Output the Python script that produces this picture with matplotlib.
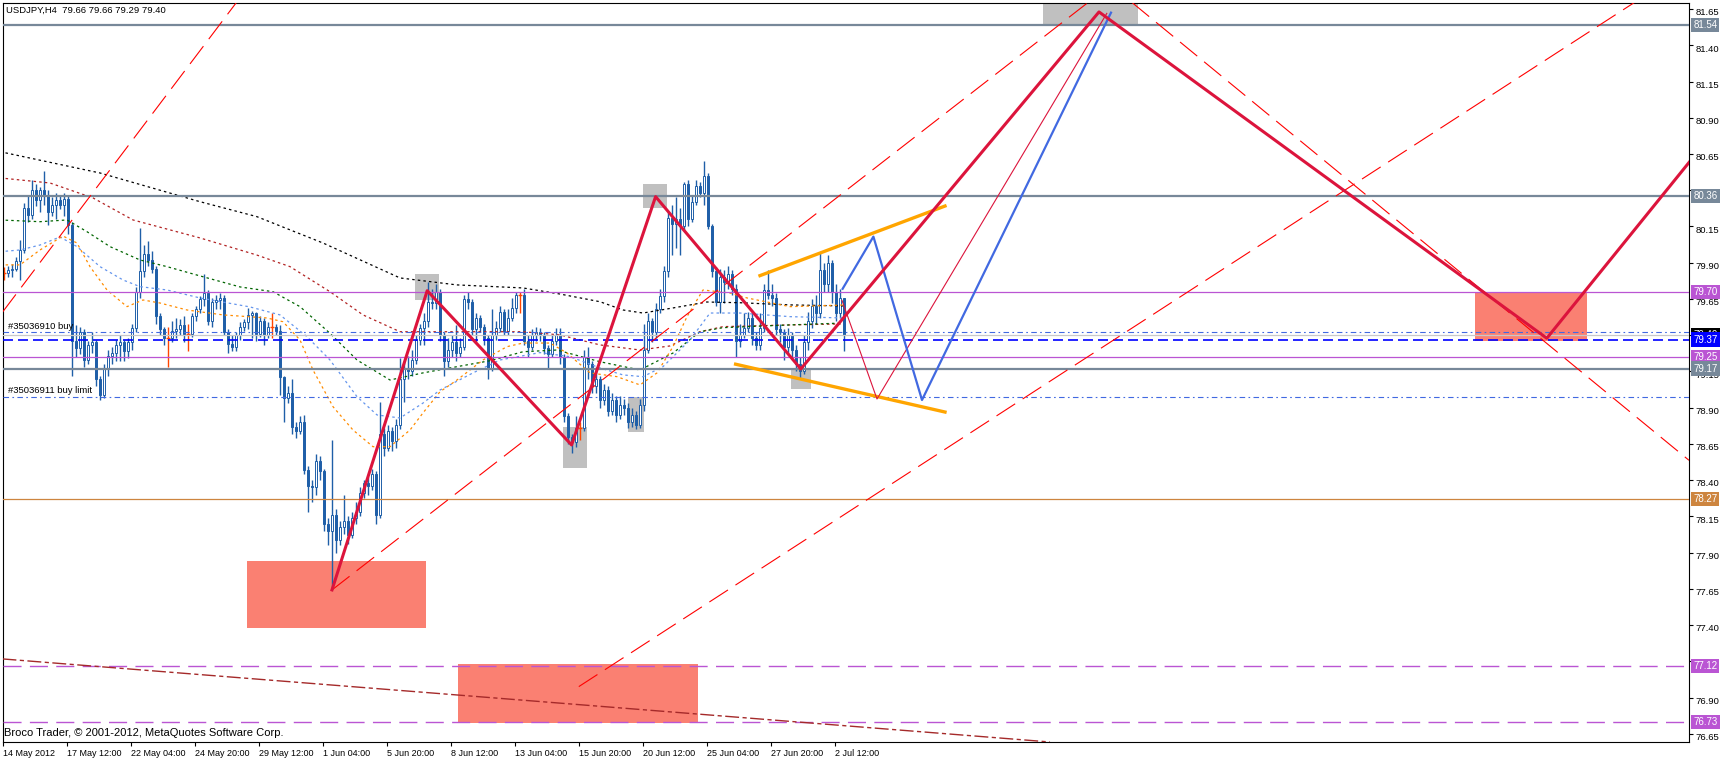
import numpy as np
import matplotlib
matplotlib.use('Agg')
import matplotlib.pyplot as plt
from matplotlib.patches import Rectangle
from matplotlib.transforms import ScaledTranslation

plt.rcParams['font.family'] = ['Liberation Sans', 'DejaVu Sans']

# USDJPY H4 candles, one value per bar
closes = [79.83, 79.85, 79.86, 79.91, 79.99, 80.28, 80.23, 80.40, 80.33, 80.40,
          80.37, 80.25, 80.30, 80.33, 80.30, 80.34, 80.16, 79.36, 79.31, 79.42,
          79.23, 79.33, 79.35, 79.10, 78.99, 79.17, 79.26, 79.28, 79.33, 79.35,
          79.29, 79.35, 79.45, 79.70, 79.84, 79.96, 79.92, 79.86, 79.53, 79.44,
          79.38, 79.38, 79.43, 79.44, 79.47, 79.41, 79.41, 79.53, 79.58, 79.65,
          79.69, 79.50, 79.63, 79.64, 79.66, 79.42, 79.34, 79.32, 79.40, 79.46,
          79.49, 79.54, 79.55, 79.41, 79.50, 79.40, 79.46, 79.46, 79.43, 79.11,
          78.97, 79.00, 78.77, 78.74, 78.80, 78.47, 78.36, 78.35, 78.53, 78.46,
          78.10, 78.05, 78.16, 77.99, 78.08, 78.12, 78.02, 78.14, 78.18, 78.31,
          78.38, 78.36, 78.44, 78.16, 78.72, 78.62, 78.74, 78.67, 78.78, 79.10,
          79.17, 79.15, 79.23, 79.37, 79.45, 79.50, 79.63, 79.62, 79.70, 79.40,
          79.22, 79.30, 79.35, 79.28, 79.32, 79.65, 79.63, 79.44, 79.52, 79.46,
          79.38, 79.17, 79.40, 79.45, 79.56, 79.43, 79.52, 79.59, 79.68, 79.68,
          79.36, 79.32, 79.40, 79.42, 79.40, 79.31, 79.27, 79.36, 79.40, 79.25,
          78.84, 78.70, 78.66, 78.76, 78.76, 79.25, 79.20, 79.05, 79.10, 78.95,
          79.02, 78.88, 78.95, 78.85, 78.92, 78.90, 78.80, 78.85, 78.78, 78.92,
          79.30, 79.50, 79.42, 79.58, 79.67, 79.84, 80.21, 80.17, 80.20, 80.15,
          80.44, 80.20, 80.32, 80.43, 80.38, 80.50, 80.15, 79.84, 79.63, 79.80,
          79.77, 79.82, 79.72, 79.36, 79.40, 79.45, 79.52, 79.38, 79.33, 79.45,
          79.71, 79.68, 79.66, 79.44, 79.42, 79.32, 79.40, 79.30, 79.20, 79.15,
          79.35, 79.50, 79.60, 79.55, 79.85, 79.75, 79.90, 79.70, 79.55, 79.66, 79.40]
highs = [79.87, 79.88, 79.89, 79.94, 80.06, 80.31, 80.36, 80.47, 80.44, 80.42,
         80.53, 80.40, 80.35, 80.38, 80.37, 80.38, 80.37, 80.18, 79.47, 79.46,
         79.44, 79.36, 79.42, 79.37, 79.12, 79.20, 79.30, 79.32, 79.37, 79.40,
         79.37, 79.38, 79.48, 79.73, 80.14, 80.02, 80.05, 79.98, 79.88, 79.55,
         79.46, 79.46, 79.50, 79.52, 79.51, 79.53, 79.48, 79.55, 79.60, 79.67,
         79.82, 79.71, 79.66, 79.68, 79.69, 79.68, 79.44, 79.40, 79.42, 79.49,
         79.51, 79.59, 79.57, 79.56, 79.53, 79.52, 79.49, 79.55, 79.48, 79.47,
         79.12, 79.05, 79.10, 78.80, 78.84, 78.85, 78.50, 78.40, 78.58, 78.57,
         78.48, 78.14, 78.68, 78.20, 78.12, 78.30, 78.15, 78.18, 78.25, 78.35,
         78.40, 78.42, 78.48, 78.46, 78.94, 78.76, 78.78, 78.77, 78.82, 79.24,
         79.22, 79.26, 79.30, 79.40, 79.48, 79.55, 79.77, 79.72, 79.75, 79.72,
         79.42, 79.38, 79.40, 79.47, 79.38, 79.68, 79.70, 79.65, 79.55, 79.54,
         79.48, 79.40, 79.58, 79.50, 79.60, 79.58, 79.58, 79.66, 79.70, 79.70,
         79.72, 79.40, 79.44, 79.46, 79.45, 79.42, 79.33, 79.40, 79.45, 79.45,
         79.27, 78.86, 78.72, 78.84, 78.80, 79.30, 79.32, 79.22, 79.18, 79.12,
         79.06, 79.05, 79.00, 78.98, 78.98, 78.96, 78.93, 78.90, 78.88, 78.96,
         79.48, 79.55, 79.52, 79.62, 79.72, 79.88, 80.25, 80.30, 80.35, 80.28,
         80.46, 80.47, 80.36, 80.47, 80.46, 80.60, 80.52, 80.17, 79.87, 79.86,
         79.85, 79.88, 79.85, 79.75, 79.48, 79.55, 79.56, 79.55, 79.42, 79.55,
         79.75, 79.85, 79.75, 79.69, 79.48, 79.44, 79.45, 79.42, 79.33, 79.25,
         79.40, 79.56, 79.65, 79.68, 79.97, 79.90, 79.95, 79.92, 79.75, 79.72, 79.66]
lows = [79.78, 79.80, 79.80, 79.84, 79.78, 79.97, 80.18, 80.20, 80.29, 80.25,
        80.30, 80.16, 80.22, 80.20, 80.27, 80.22, 80.10, 79.12, 79.25, 79.27,
        79.18, 79.20, 79.28, 79.05, 78.95, 78.97, 79.12, 79.20, 79.22, 79.22,
        79.22, 79.24, 79.30, 79.42, 79.66, 79.80, 79.88, 79.83, 79.48, 79.40,
        79.33, 79.18, 79.35, 79.38, 79.40, 79.35, 79.29, 79.39, 79.50, 79.55,
        79.60, 79.47, 79.46, 79.58, 79.58, 79.40, 79.28, 79.29, 79.29, 79.37,
        79.43, 79.44, 79.38, 79.36, 79.39, 79.33, 79.38, 79.38, 79.40, 78.99,
        78.80, 78.93, 78.72, 78.69, 78.72, 78.44, 78.18, 78.25, 78.30, 78.40,
        78.05, 77.95, 77.65, 77.90, 77.95, 78.03, 77.96, 78.00, 78.10, 78.15,
        78.28, 78.30, 78.33, 78.10, 78.14, 78.57, 78.60, 78.60, 78.62, 78.75,
        78.94, 79.10, 79.12, 79.20, 79.33, 79.33, 79.46, 79.58, 79.58, 79.36,
        79.12, 79.18, 79.25, 79.22, 79.25, 79.30, 79.58, 79.40, 79.35, 79.42,
        79.33, 79.10, 79.15, 79.37, 79.42, 79.40, 79.40, 79.50, 79.55, 79.55,
        79.33, 79.25, 79.30, 79.36, 79.36, 79.27, 79.17, 79.25, 79.33, 79.20,
        78.80, 78.65, 78.59, 78.63, 78.68, 78.74, 79.10, 79.00, 79.00, 78.90,
        78.92, 78.84, 78.85, 78.80, 78.82, 78.85, 78.76, 78.77, 78.75, 78.76,
        78.88, 79.28, 79.35, 79.38, 79.55, 79.63, 79.80, 79.95, 80.00, 79.95,
        80.12, 80.15, 80.18, 80.30, 80.35, 80.30, 80.13, 79.80, 79.60, 79.55,
        79.62, 79.72, 79.68, 79.25, 79.32, 79.38, 79.42, 79.33, 79.30, 79.30,
        79.42, 79.65, 79.60, 79.40, 79.35, 79.23, 79.28, 79.25, 79.15, 79.10,
        79.13, 79.30, 79.45, 79.48, 79.52, 79.70, 79.70, 79.62, 79.50, 79.52, 79.29]
opens = [closes[0]] + closes[:-1]

date_labels = ['14 May 2012', '17 May 12:00', '22 May 04:00', '24 May 20:00', '29 May 12:00',
               '1 Jun 04:00', '5 Jun 20:00', '8 Jun 12:00', '13 Jun 04:00', '15 Jun 20:00',
               '20 Jun 12:00', '25 Jun 04:00', '27 Jun 20:00', '2 Jul 12:00']

# moving averages: (bar, price) knots
ma_black_x = [-1, 24, 49, 63.2, 79.75, 99, 113.2, 129.75, 139, 149, 154.75, 159.75, 167.25, 175.7, 184, 196.5, 209.75]
ma_black_y = [80.666, 80.519, 80.321, 80.218, 80.036, 79.795, 79.747, 79.726, 79.684, 79.631, 79.574, 79.553, 79.588, 79.629, 79.624, 79.609, 79.602]
ma_red_x = [-1, 11.5, 22.25, 32.25, 49, 63.2, 71.5, 81.5, 89.75, 99, 113.25, 129.75, 139, 149, 159, 166.5, 174, 179.75, 196.5, 209.75]
ma_red_y = [80.485, 80.450, 80.347, 80.195, 80.071, 79.953, 79.873, 79.700, 79.540, 79.424, 79.424, 79.424, 79.402, 79.333, 79.298, 79.326, 79.424, 79.459, 79.471, 79.478]
ma_green_x = [-1, 9, 15.75, 20.75, 26.5, 34, 40.75, 49, 59, 67.25, 74, 81.5, 88.25, 96.5, 104.75, 113.25, 121.5, 129.75, 138.25, 149, 159, 167.25, 174, 179.75, 196.5, 209.75]
ma_green_y = [80.195, 80.183, 80.195, 80.114, 80.011, 79.919, 79.873, 79.809, 79.733, 79.700, 79.597, 79.413, 79.229, 79.091, 79.140, 79.183, 79.224, 79.286, 79.298, 79.217, 79.160, 79.277, 79.424, 79.452, 79.471, 79.484]
ma_blue_x = [-1, 4, 9, 14, 18.25, 24, 29.75, 34, 40.75, 49, 61.5, 69, 75.75, 81.5, 88.25, 93.25, 99, 104.75, 109, 117.25, 124, 134, 141.5, 149, 154.75, 159.75, 164.75, 171.5, 176.5, 184, 196.5, 209.75]
ma_blue_y = [79.976, 79.988, 80.022, 80.078, 80.011, 79.873, 79.781, 79.735, 79.712, 79.657, 79.595, 79.540, 79.390, 79.229, 78.976, 78.850, 78.829, 78.932, 79.022, 79.140, 79.229, 79.280, 79.252, 79.174, 79.126, 79.114, 79.183, 79.367, 79.553, 79.553, 79.528, 79.519]
ma_orange_x = [-1, 4, 9, 14.75, 18.25, 21.5, 25.75, 30.75, 34.75, 39, 45.75, 54.75, 65.75, 69.75, 74, 77.25, 82.25, 87.25, 92.25, 96.5, 101.5, 104.75, 109, 113.25, 119.75, 125.75, 129.75, 136.5, 140.75, 146.5, 153.25, 159, 163.25, 167.25, 170.75, 174.75, 181.5, 185.75, 196.5, 209.75]
ma_orange_y = [79.885, 79.885, 79.988, 80.084, 80.036, 79.873, 79.712, 79.597, 79.643, 79.622, 79.574, 79.540, 79.519, 79.493, 79.367, 79.160, 78.907, 78.746, 78.631, 78.631, 78.746, 78.864, 79.010, 79.091, 79.229, 79.321, 79.346, 79.346, 79.277, 79.140, 79.114, 79.057, 79.140, 79.321, 79.528, 79.712, 79.691, 79.657, 79.597, 79.608]

# zigzag / projection objects
zigzag_x = [82, 105.8, 141.9, 162.9, 199.2, 273.75, 385.7, 421.5]
zigzag_y = [77.643, 79.707, 78.643, 80.356, 79.167, 81.63, 79.379, 80.60]
thin_x = [209.5, 218.25, 275.7]
thin_y = [79.64, 78.96, 81.62]
proj_blue_x = [209.65, 217.35, 229.5, 276.75]
proj_blue_y = [79.72, 80.08, 78.953, 81.625]
orange_up_x, orange_up_y = [189, 235.25], [79.811, 80.291]
orange_dn_x, orange_dn_y = [182.9, 235.25], [79.20, 78.87]
dashed_lines = [([-0.375, 58.1], [79.559, 81.695]),
                ([82, 271], [77.643, 81.695]),
                ([143.7, 407.6], [76.976, 81.695]),
                ([282, 421.25], [81.695, 78.537])]
brown_x, brown_y = [-0.375, 261.5], [77.167, 76.594]

pink_boxes = [(60.7, 105.6, 77.382, 77.845), (113.5, 173.5, 76.727, 77.132), (367.75, 395.7, 79.360, 79.689)]
gray_boxes = [(259.75, 283.5, 81.540, 81.75), (102.75, 108.75, 79.643, 79.822), (139.75, 145.7, 78.482, 78.769),
              (159.75, 165.7, 80.280, 80.443), (196.75, 201.75, 79.029, 79.167), (156, 160, 78.733, 78.974)]

# horizontal levels with the coloured price tag on the right
tag_prices = [81.54, 80.36, 79.70, 79.40, 79.37, 79.25, 79.17, 78.27, 77.12, 76.73]
tag_colors = ['#778899', '#778899', '#ba55d3', '#000000', '#0000ff', '#ba55d3', '#778899', '#cd853f', '#ba55d3', '#ba55d3']

CANDLE = '#1f5fa8'

fig = plt.figure(figsize=(17.27, 7.59), dpi=100)
ax = fig.add_axes([2.5 / 1727, 1 - 741.7 / 759, 1686.5 / 1727, 739.2 / 759])
ax.set_xlim(-0.375, 421.25)
ax.set_ylim(76.596, 81.695)

for x0, x1, y0, y1 in pink_boxes:
    ax.add_patch(Rectangle((x0, y0), x1 - x0, y1 - y0, fc='#fa8072', ec='none', zorder=1))
for x0, x1, y0, y1 in gray_boxes:
    ax.add_patch(Rectangle((x0, y0), x1 - x0, y1 - y0, fc='#c0c0c0', ec='none', zorder=1))

# candles
idx = np.arange(len(closes))
o, c, h, l = map(np.array, (opens, closes, highs, lows))
doji = np.isclose(o, c)
ax.vlines(idx, l, h, colors=np.where(doji, '#ff4500', CANDLE), lw=1, zorder=2)
up, dn = c > o + 1e-9, c < o - 1e-9
ax.bar(idx[up], (c - o)[up], bottom=o[up], width=0.5, color='white', edgecolor=CANDLE, lw=0.7, zorder=2.2)
ax.bar(idx[dn], (o - c)[dn], bottom=c[dn], width=0.5, color=CANDLE, edgecolor=CANDLE, lw=0.7, zorder=2.2)
ax.hlines(c[doji], idx[doji] - 0.4, idx[doji] + 0.4, colors='#ff4500', lw=1, zorder=2.2)

# moving averages
ma_style = dict(lw=0.9, ls=(0, (2, 2.5)), zorder=2.5)
ax.plot(ma_black_x, ma_black_y, color='black', **ma_style)
ax.plot(ma_red_x, ma_red_y, color='#b22222', **ma_style)
ax.plot(ma_green_x, ma_green_y, color='#006400', **ma_style)
ax.plot(ma_blue_x, ma_blue_y, color='#6495ed', **ma_style)
ax.plot(ma_orange_x, ma_orange_y, color='#ff8c00', **ma_style)

# horizontal lines
for p in (81.54, 80.36, 79.17):
    ax.axhline(p, color='#778899', lw=1.6, zorder=3)
for p in (79.70, 79.25):
    ax.axhline(p, color='#ba55d3', lw=0.9, zorder=3)
for p in (77.12, 76.73):
    ax.axhline(p, color='#ba55d3', lw=1, ls=(0, (13, 6)), zorder=3)
ax.axhline(78.27, color='#cd853f', lw=0.9, zorder=3)
ax.axhline(79.40, color='#c8c8c8', lw=0.9, zorder=3)
ax.axhline(79.37, color='#0000ff', lw=1.2, ls=(0, (6, 3)), zorder=3)
ax.axhline(79.42, color='#4169e1', lw=0.8, ls=(0, (5, 3, 1.5, 3)), zorder=3)
ax.axhline(78.976, color='#4169e1', lw=0.8, ls=(0, (5, 3, 1.5, 3)), zorder=3)
ax.text(1, 79.457, '#35036910 buy', fontsize=6.8, va='center', zorder=5)
ax.text(1, 79.017, '#35036911 buy limit', fontsize=6.8, va='center', zorder=5)

# trend lines and projections
for xs, ys in dashed_lines:
    ax.plot(xs, ys, color='#ff0000', lw=0.8, ls=(0, (20, 8)), zorder=3.5)
ax.plot(brown_x, brown_y, color='#a52a2a', lw=1, ls=(0, (10, 2.5, 3, 2.5)), zorder=3.5)
ax.plot(orange_up_x, orange_up_y, color='#ffa500', lw=2.4, zorder=3.6)
ax.plot(orange_dn_x, orange_dn_y, color='#ffa500', lw=2.4, zorder=3.6)
ax.plot(thin_x, thin_y, color='#dc143c', lw=0.8, zorder=3.7)
ax.plot(proj_blue_x, proj_blue_y, color='#4169e1', lw=1.6, zorder=3.8)
ax.plot(zigzag_x, zigzag_y, color='#dc143c', lw=2.2, zorder=4)

# axes look (MetaTrader style); the 79.40 tick sits under the price tags
ticks = np.arange(76.65, 81.66, 0.25)
ax.yaxis.tick_right()
ax.set_yticks(ticks)
ax.set_yticklabels(['' if abs(v - 79.40) < 0.01 else '%.2f' % v for v in ticks])
ax.set_xticks(np.arange(len(date_labels)) * 16 - 0.25)
ax.set_xticklabels(date_labels, ha='left')
ax.tick_params(axis='y', direction='out', length=3, width=0.8, pad=2, labelsize=6.8)
ax.tick_params(axis='x', direction='out', length=3, width=0.8, pad=2, labelsize=6.5)
shift = ScaledTranslation(0, -2 / 72, fig.dpi_scale_trans)
for t in ax.get_yticklabels():
    t.set_transform(t.get_transform() + shift)
for s in ax.spines.values():
    s.set_linewidth(0.8)

# coloured price tags on the right axis
for p, col in zip(tag_prices, tag_colors):
    ax.text(1.0025, p, '%.2f' % p, transform=ax.get_yaxis_transform(), ha='left', va='center',
            fontsize=7, color='white', clip_on=False, zorder=10,
            bbox=dict(boxstyle='square,pad=0.22', fc=col, ec='none'))

ax.text(0.5, 81.64, 'USDJPY,H4  79.66 79.66 79.29 79.40', fontsize=6.8, va='center', zorder=6)
ax.text(0, 76.655, 'Broco Trader, \u00a9 2001-2012, MetaQuotes Software Corp.', fontsize=8, va='center', zorder=6)

fig.savefig('out.png', dpi=100)
